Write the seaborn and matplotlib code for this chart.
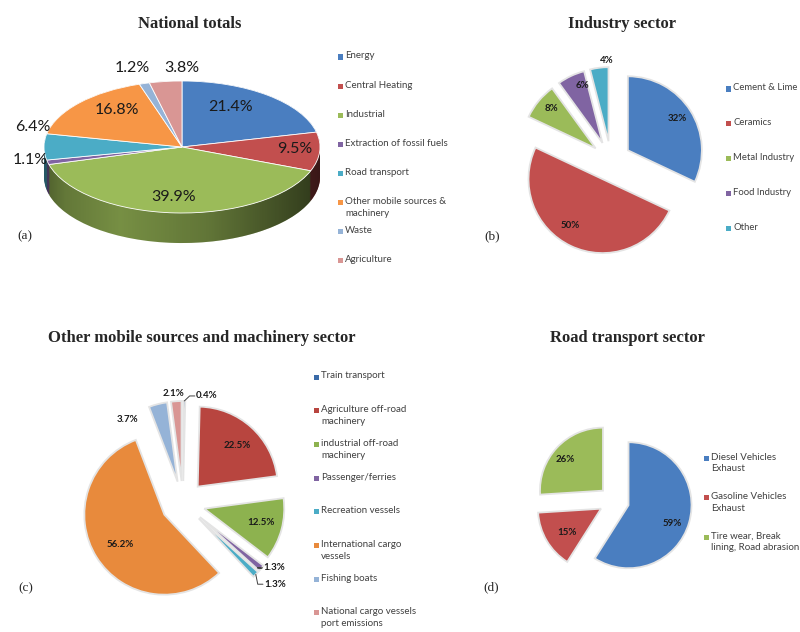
import numpy as np
import matplotlib
matplotlib.use("Agg")
import matplotlib.pyplot as plt
import seaborn as sns
from matplotlib.patches import Rectangle, Polygon
from matplotlib.colors import to_rgb

# ---------------- data ----------------
national_labels = ["Energy", "Central Heating", "Industrial", "Extraction of fossil fuels",
                   "Road transport", "Other mobile sources &\nmachinery", "Waste", "Agriculture"]
national_values = [21.4, 9.5, 39.9, 1.1, 6.4, 16.8, 1.2, 3.8]

industry_labels = ["Cement & Lime", "Ceramics", "Metal Industry", "Food Industry", "Other"]
industry_values = [32, 50, 8, 6, 4]

mobile_labels = ["Train transport", "Agriculture off-road\nmachinery", "industrial off-road\nmachinery",
                 "Passenger/ferries", "Recreation vessels", "International cargo\nvessels",
                 "Fishing boats", "National cargo vessels\nport emissions"]
mobile_values = [0.4, 22.5, 12.5, 1.3, 1.3, 56.2, 3.7, 2.1]

road_labels = ["Diesel Vehicles\nExhaust", "Gasoline Vehicles\nExhaust", "Tire wear, Break\nlining, Road abrasion"]
road_values = [59, 15, 26]

# ---------------- style ----------------
sns.set_theme(style="white")
plt.rcParams["font.family"] = ["Lato", "DejaVu Sans"]

BLUE, RED, GREEN, PURPLE, AQUA, ORANGE, LBLUE, PINK = (
    "#4A7EC0", "#C24F4E", "#9BBB59", "#8064A2", "#4BACC6", "#F79646", "#95B3D7", "#D99694")
national_colors = [BLUE, RED, GREEN, PURPLE, AQUA, ORANGE, LBLUE, PINK]
industry_colors = [BLUE, RED, GREEN, PURPLE, AQUA]
mobile_colors = ["#3A6AA8", "#B8453F", "#8DB24F", PURPLE, AQUA, "#E88A3C", LBLUE, PINK]
road_colors = [BLUE, RED, GREEN]

# label placement around each wedge (radius, angular nudge in degrees)
national_dist = [0.70, 0.82, 0.76, 1.12, 1.12, 0.73, 1.25, 1.2]
national_nudge = [8.6, 1.5, -1.8, -3, -15.3, -7.9, 1, -6.8]
industry_dist = [0.79, 0.77, 0.81, 0.82, 1.09]
industry_nudge = [0.7, -9.5, -2.4, -5.4, -6.2]
mobile_dist = [1.075, 0.72, 0.73, 1.02, 1.16, 0.67, 0.99, 1.1]
mobile_nudge = [-7.8, -2, 1.7, 1.3, -0.7, 2.4, 24.6, 1.7]
mobile_ha = ["left", "center", "center", "left", "left", "center", "center", "center"]
road_dist = [0.75, 0.66, 0.78]
road_nudge = [-6, 5, 4]

W, H = 800, 632
fig = plt.figure(figsize=(W / 100, H / 100), dpi=100)
fig.patch.set_facecolor("white")


def px_axes(cx, cy, sx, sy, xlim, ylim):
    """Axes whose data origin sits at pixel (cx, cy) with sx/sy pixels per unit."""
    return fig.add_axes([(cx + xlim[0] * sx) / W, 1 - (cy - ylim[0] * sy) / H,
                         (xlim[1] - xlim[0]) * sx / W, (ylim[1] - ylim[0]) * sy / H])


def finish(ax, xlim, ylim):
    ax.set_xlim(xlim)
    ax.set_ylim(ylim)
    ax.set_aspect("auto")
    ax.axis("off")


def mid_angles(values):
    v = np.asarray(values, float)
    cum = np.cumsum(v)
    return 90 - 360 * (cum - v / 2) / v.sum()


def pct_labels(ax, values, explode, dist, nudge, fmt, ha=None, **kw):
    mids = mid_angles(values)
    pos = []
    for i, v in enumerate(values):
        th = np.radians(mids[i])
        ox, oy = explode[i] * np.cos(th), explode[i] * np.sin(th)
        a = np.radians(mids[i] + nudge[i])
        x, y = ox + dist[i] * np.cos(a), oy + dist[i] * np.sin(a)
        ax.text(x, y, fmt.format(v), ha=(ha[i] if ha else "center"), va="center", zorder=5, **kw)
        pos.append((ox + np.cos(th), oy + np.sin(th), x, y))
    return pos


def legend_block(x_marker, x_text, y0, step, labels, colors, size=7):
    for i, (lab, c) in enumerate(zip(labels, colors)):
        y = y0 + i * step
        fig.add_artist(Rectangle(((x_marker - 2.5) / W, 1 - (y + 2.5) / H), 5 / W, 5 / H,
                                 transform=fig.transFigure, facecolor=c, edgecolor="none"))
        fig.text(x_text / W, 1 - (y - 5.5) / H, lab, ha="left", va="top", fontsize=size,
                 color="#404040", linespacing=1.4)


def darken(c, f):
    r, g, b = to_rgb(c)
    return (r * f, g * f, b * f)


title_kw = dict(family="Liberation Serif", fontweight="bold", fontsize=12, ha="center", va="center")
tag_kw = dict(family="Liberation Serif", fontsize=9.5, ha="center", va="center")

# ---------------- (a) National totals: tilted pie with a side wall ----------------
xa, ya = (-1.3, 1.3), (-1.6, 1.6)
ax = px_axes(182, 147, 138, 66, xa, ya)
depth = 0.455
side_cols = [darken(c, 0.78) for c in national_colors]
for k in np.linspace(depth, 0.0, 28):
    ax.pie(national_values, colors=side_cols, startangle=90, counterclock=False,
           center=(0, -k), wedgeprops=dict(linewidth=0, zorder=1))
t = np.linspace(np.pi, 2 * np.pi, 200)
band = np.vstack([np.column_stack([np.cos(t), np.sin(t)]),
                  np.column_stack([np.cos(t[::-1]), np.sin(t[::-1]) - depth])])
clip = Polygon(band, closed=True, transform=ax.transData, facecolor="none", edgecolor="none")
ax.add_patch(clip)
gx = np.linspace(-1, 1, 300)
shade = np.zeros((1, 300, 4))
shade[..., 3] = np.interp(gx, [-1, -0.85, -0.45, 0.2, 0.7, 1.0], [0.35, 0.18, 0.02, 0.2, 0.45, 0.62])
img = ax.imshow(shade, extent=(-1, 1, -1 - depth, 0.05), aspect="auto", zorder=1.5)
img.set_clip_path(clip)
ax.pie(national_values, colors=national_colors, startangle=90, counterclock=False,
       wedgeprops=dict(edgecolor="white", linewidth=0.6, zorder=2))
pct_labels(ax, national_values, [0] * 8, national_dist, national_nudge, "{:.1f}%",
           fontsize=11.5, color="#1a1a1a")
finish(ax, xa, ya)
fig.text(190 / W, 1 - 24 / H, "National totals", **title_kw)
fig.text(25 / W, 1 - 236 / H, "(a)", **tag_kw)
legend_block(340, 345, 57, 29.1, national_labels, national_colors)

edge_kw = dict(edgecolor="#e4e4e4", linewidth=1.3)
lab_kw = dict(fontsize=7, fontweight="bold", color="#1a1a1a")

# ---------------- (b) Industry sector ----------------
xb, yb = (-1.5, 1.5), (-1.5, 1.6)
ax = px_axes(611, 161, 74, 74, xb, yb)
ex_b = [0.27] * len(industry_values)
ax.pie(industry_values, colors=industry_colors, startangle=90, counterclock=False,
       explode=ex_b, wedgeprops=edge_kw)
pct_labels(ax, industry_values, ex_b, industry_dist, industry_nudge, "{:.0f}%", **lab_kw)
finish(ax, xb, yb)
fig.text(622 / W, 1 - 24 / H, "Industry sector", **title_kw)
fig.text(492 / W, 1 - 236 / H, "(b)", **tag_kw)
legend_block(728, 733, 89, 34.75, industry_labels, industry_colors, size=6.8)

# ---------------- (c) Other mobile sources and machinery ----------------
xc, yc = (-1.5, 1.5), (-1.5, 1.6)
ax = px_axes(183, 503, 80, 80, xc, yc)
ex_c = [0.275] * len(mobile_values)
ax.pie(mobile_values, colors=mobile_colors, startangle=90, counterclock=False,
       explode=ex_c, wedgeprops=edge_kw)
pos = pct_labels(ax, mobile_values, ex_c, mobile_dist, mobile_nudge, "{:.1f}%", ha=mobile_ha, **lab_kw)
for i, h in enumerate(mobile_ha):
    if h == "left":
        px0, py0, lx, ly = pos[i]
        ax.plot([px0, lx - 0.08, lx - 0.015], [py0, ly, ly], color="#404040", lw=0.7, zorder=4)
finish(ax, xc, yc)
fig.text(202 / W, 1 - 338 / H, "Other mobile sources and machinery sector", **title_kw)
fig.text(26 / W, 1 - 588 / H, "(c)", **tag_kw)
legend_block(316, 321, 377, 33.7, mobile_labels, mobile_colors)

# ---------------- (d) Road transport sector ----------------
xd, yd = (-1.6, 1.6), (-1.5, 1.5)
ax = px_axes(614, 501, 63, 63, xd, yd)
ex_d = [0.24] * len(road_values)
ax.pie(road_values, colors=road_colors, startangle=90, counterclock=False,
       explode=ex_d, wedgeprops=edge_kw)
pct_labels(ax, road_values, ex_d, road_dist, road_nudge, "{:.0f}%", **lab_kw)
finish(ax, xd, yd)
fig.text(627 / W, 1 - 338 / H, "Road transport sector", **title_kw)
fig.text(491 / W, 1 - 587 / H, "(d)", **tag_kw)
legend_block(706, 711, 458, 39.5, road_labels, road_colors)

fig.savefig("out.png", dpi=100, facecolor="white")
